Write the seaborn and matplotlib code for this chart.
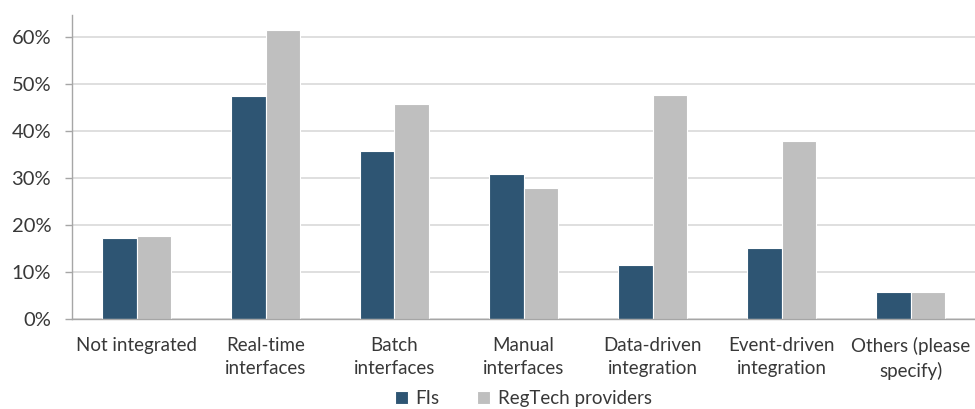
import matplotlib
matplotlib.use("Agg")
import matplotlib.pyplot as plt
import matplotlib.ticker as mticker
import seaborn as sns
import pandas as pd

categories = ["Not integrated", "Real-time\ninterfaces", "Batch\ninterfaces",
              "Manual\ninterfaces", "Data-driven\nintegration",
              "Event-driven\nintegration", "Others (please\nspecify)"]
fis = [0.172, 0.474, 0.358, 0.309, 0.115, 0.152, 0.057]
regtech = [0.177, 0.616, 0.458, 0.278, 0.477, 0.379, 0.057]
series_names = ["FIs", "RegTech providers"]
palette = ["#2E5573", "#BFBFBF"]

df = pd.DataFrame({
    "category": categories * 2,
    "share": fis + regtech,
    "group": [series_names[0]] * len(categories) + [series_names[1]] * len(categories),
})

sns.set_theme(style="white")
plt.rcParams["font.family"] = ["Lato", "DejaVu Sans"]

text_color = "#383838"
axis_color = "#A6A6A6"

fig = plt.figure(figsize=(9.75, 4.09), dpi=100)
ax = fig.add_axes([72 / 975, 90 / 409, 1 - 72 / 975, (319 - 15) / 409])

sns.barplot(data=df, x="category", y="share", hue="group", palette=palette,
            width=0.54, edgecolor="white", linewidth=0.8, saturation=1,
            ax=ax, legend=True)

ax.set_ylim(0, 0.647)
ax.set_xlim(-0.5, len(categories) - 0.5)
ax.yaxis.set_major_locator(mticker.MultipleLocator(0.1))
ax.yaxis.set_major_formatter(mticker.PercentFormatter(1.0, decimals=0))
ax.grid(axis="y", color="#D9D9D9", linewidth=1.2)
ax.set_axisbelow(True)
ax.set_xlabel("")
ax.set_ylabel("")

for side in ["top", "right"]:
    ax.spines[side].set_visible(False)
for side in ["left", "bottom"]:
    ax.spines[side].set_color(axis_color)
    ax.spines[side].set_linewidth(1.0)

ax.set_xticks(range(len(categories)))
ax.set_xticklabels(categories, linespacing=1.45)
ax.tick_params(axis="x", which="major", length=0, pad=13, labelsize=13.5, colors=text_color)
ax.set_xticks([i - 0.5 for i in range(len(categories) + 1)], minor=True)
ax.tick_params(axis="x", which="minor", length=5, color=axis_color, width=1)
ax.tick_params(axis="y", length=5, width=1, color=axis_color, pad=10,
               labelsize=14.5, labelcolor=text_color, left=True)

handles, labels = ax.get_legend_handles_labels()
ax.legend(handles, labels, loc="upper center", bbox_to_anchor=(0.5, -0.208),
          ncol=2, frameon=False, fontsize=13.5, handlelength=0.7,
          handleheight=0.7, columnspacing=2.0, handletextpad=0.4,
          borderaxespad=0, labelcolor=text_color)

fig.savefig("out.png", dpi=100)
